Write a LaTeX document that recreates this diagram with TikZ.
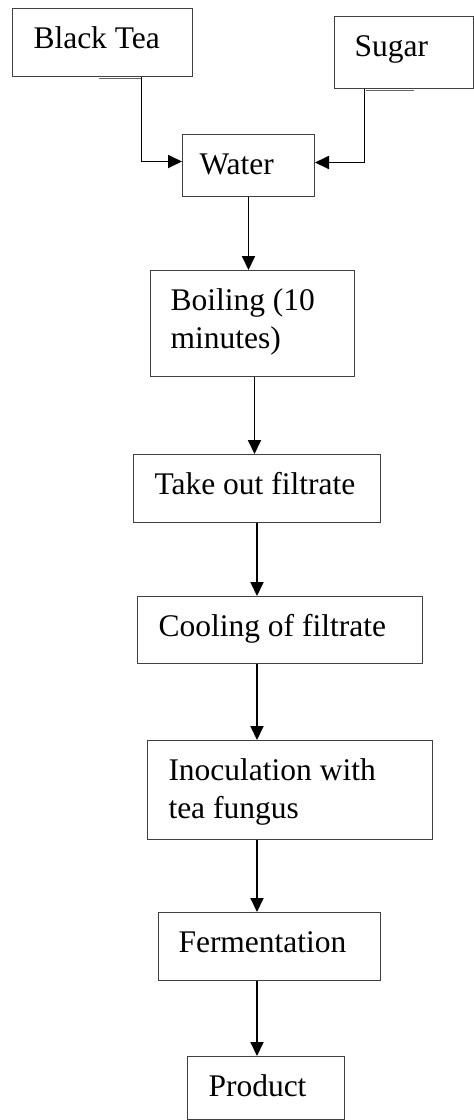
\documentclass[tikz,border=0pt]{standalone}
\usepackage{fontspec}
\setmainfont{Liberation Serif}
\usetikzlibrary{arrows.meta}

\begin{document}
\begin{tikzpicture}[x=1pt, y=-1pt,
        stepbox/.style={draw=black!75, line width=1pt, anchor=north west,
                        align=flush left, inner ysep=0pt, inner xsep=20pt,
                        text height=40pt,
                        font=\fontsize{31.5}{38}\selectfont},
        flow/.style={draw, line width=1.8pt,
                     -{Triangle[length=14pt, width=13pt]}},
        ghost/.style={draw=black!60, line width=1.6pt}]
    \useasboundingbox (0,0) rectangle (474,1120);

    \node[stepbox, inner xsep=21pt, text width=138pt, text depth=28pt] (tea)   at (12,8)    {Black Tea};
    \node[stepbox, text width=99pt,  text depth=32pt] (sugar) at (334,16)  {Sugar};
    \node[stepbox, inner xsep=17pt, text width=98pt,  text depth=22pt] (water) at (182,134) {Water};
    \node[stepbox, text width=164pt, text depth=66pt] (boil)  at (150,270) {Boiling (10\\minutes)};
    \node[stepbox, inner xsep=21pt, text width=205pt, text depth=28pt] (take)  at (133,454) {\mbox{Take out filtrate}};
    \node[stepbox, inner xsep=21pt, text width=243pt, text depth=27pt] (cool)  at (137,596) {Cooling of filtrate};
    \node[stepbox, inner xsep=21pt, text width=243pt, text depth=59pt] (inoc)  at (147,740) {Inoculation with\\tea fungus};
    \node[stepbox, text width=182pt, text depth=28pt] (ferm)  at (158,912) {Fermentation};
    \node[stepbox, inner xsep=21pt, text width=115pt, text depth=23pt] (prod)  at (187,1056) {Product};

    \coordinate (spine) at (257,0);

    \draw[ghost] ([xshift=-4pt, yshift=-1.5pt]tea.south) -- ([xshift=38pt, yshift=-1.5pt]tea.south);
    \draw[ghost] ([xshift=-38.5pt, yshift=-1.5pt]sugar.south) -- ([xshift=9.5pt, yshift=-1.5pt]sugar.south);

    \draw[flow] ([xshift=39pt]tea.south) |- ([yshift=4pt]water.west);
    \draw[flow] ([xshift=-39.5pt]sugar.south) |- ([yshift=3pt]water.east);
    \draw[flow] (water.south) -- (water.south |- boil.north);
    \draw[flow] ([xshift=2pt]boil.south) -- ([xshift=2pt]boil.south |- take.north);
    \draw[flow] (take.south -| spine) -- (cool.north -| spine);
    \draw[flow] (cool.south -| spine) -- (inoc.north -| spine);
    \draw[flow] (inoc.south -| spine) -- (ferm.north -| spine);
    \draw[flow] (ferm.south -| spine) -- (prod.north -| spine);
\end{tikzpicture}
\end{document}
